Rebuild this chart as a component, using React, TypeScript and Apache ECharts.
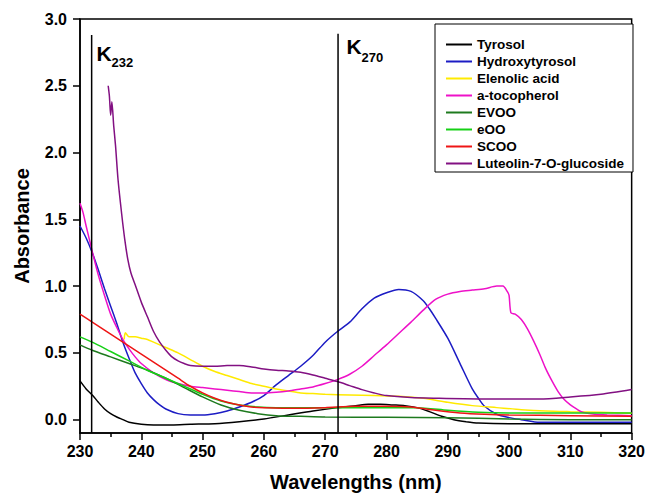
import { useEffect, useRef } from "react";
import * as echarts from "echarts";

// ---- Data ----
const wlTyrosol = [230, 231, 232, 233, 234, 235, 236, 237, 238, 240, 242, 245, 248, 252, 256, 260, 264, 268, 272, 275, 277, 279, 281, 283, 285, 287, 289, 291, 293, 295, 300, 310, 320];
const absTyrosol = [0.29, 0.23, 0.185, 0.13, 0.08, 0.045, 0.02, 0.0, -0.02, -0.035, -0.04, -0.04, -0.035, -0.03, -0.015, 0.005, 0.035, 0.065, 0.09, 0.105, 0.115, 0.115, 0.11, 0.105, 0.09, 0.06, 0.025, 0.0, -0.015, -0.025, -0.03, -0.03, -0.03];

const wlHydroxy = [230, 231, 232, 233, 234, 235, 236, 237, 238, 239, 240, 241, 242, 243, 244, 246, 248, 250, 252, 254, 256, 258, 260, 262, 264, 266, 268, 270, 272, 274, 276, 278, 280, 282, 284, 286, 287, 288, 290, 292, 294, 295, 296, 298, 300, 302, 305, 310, 320];
const absHydroxy = [1.45, 1.36, 1.25, 1.12, 0.98, 0.85, 0.72, 0.58, 0.46, 0.35, 0.27, 0.2, 0.15, 0.11, 0.08, 0.045, 0.035, 0.035, 0.045, 0.065, 0.095, 0.13, 0.18, 0.26, 0.33, 0.4, 0.48, 0.58, 0.66, 0.73, 0.83, 0.91, 0.95, 0.975, 0.96, 0.89, 0.83, 0.76, 0.61, 0.42, 0.23, 0.16, 0.1, 0.04, 0.015, 0.0, -0.02, -0.02, -0.02];

const wlElenolic = [237.2, 237.4, 238, 239, 240, 241, 242, 244, 246, 248, 250, 252, 254, 256, 258, 260, 262, 264, 266, 268, 270, 274, 278, 282, 286, 290, 294, 298, 302, 306, 310, 315, 320];
const absElenolic = [0.6, 0.65, 0.62, 0.62, 0.61, 0.6, 0.58, 0.54, 0.5, 0.45, 0.4, 0.36, 0.33, 0.3, 0.27, 0.25, 0.23, 0.215, 0.2, 0.195, 0.19, 0.185, 0.18, 0.175, 0.16, 0.13, 0.105, 0.09, 0.075, 0.065, 0.06, 0.055, 0.047];

const wlTocopherol = [230, 230.5, 231, 232, 233, 234, 235, 236, 237, 238, 239, 240, 242, 244, 246, 248, 250, 252, 254, 256, 258, 260, 262, 264, 266, 268, 270, 272, 274, 276, 278, 280, 282, 284, 286, 288, 290, 292, 294, 296, 298, 299, 299.7, 300, 300.3, 301, 302, 303, 304, 305, 306, 307, 308, 309, 310, 311, 312, 314, 316, 320];
const absTocopherol = [1.62, 1.55, 1.45, 1.26, 1.08, 0.93, 0.79, 0.69, 0.6, 0.53, 0.47, 0.42, 0.35, 0.3, 0.27, 0.25, 0.24, 0.23, 0.22, 0.21, 0.2, 0.2, 0.205, 0.215, 0.23, 0.245, 0.27, 0.3, 0.34, 0.4, 0.48, 0.56, 0.645, 0.73, 0.82, 0.9, 0.94, 0.96, 0.97, 0.98, 1.0, 1.0, 0.96, 0.93, 0.8, 0.79, 0.75, 0.68, 0.59, 0.49, 0.38, 0.29, 0.21, 0.15, 0.11, 0.08, 0.055, 0.04, 0.035, 0.03];

const wlEVOO = [230, 232, 235, 238, 241, 244, 247, 250, 253, 256, 259, 262, 266, 270, 280, 290, 300, 310, 320];
const absEVOO = [0.56, 0.52, 0.47, 0.42, 0.37, 0.31, 0.24, 0.17, 0.11, 0.07, 0.045, 0.03, 0.025, 0.02, 0.018, 0.015, 0.005, 0.0, 0.0];

const wlEOO = [230, 232, 235, 238, 241, 244, 247, 250, 253, 256, 259, 262, 266, 270, 275, 280, 285, 290, 295, 300, 310, 320];
const absEOO = [0.62, 0.58, 0.51, 0.44, 0.37, 0.31, 0.25, 0.19, 0.14, 0.11, 0.095, 0.09, 0.09, 0.09, 0.09, 0.09, 0.09, 0.07, 0.055, 0.05, 0.05, 0.05];

const wlSCOO = [230, 232, 234, 236, 238, 240, 242, 244, 246, 248, 250, 252, 254, 256, 258, 260, 265, 270, 275, 280, 284, 288, 292, 296, 300, 310, 320];
const absSCOO = [0.79, 0.73, 0.67, 0.61, 0.55, 0.49, 0.43, 0.37, 0.31, 0.25, 0.2, 0.16, 0.13, 0.11, 0.095, 0.09, 0.085, 0.09, 0.1, 0.1, 0.095, 0.07, 0.05, 0.04, 0.035, 0.03, 0.025];

const wlLuteolin = [234.6, 234.8, 235, 235.2, 235.5, 235.8, 236.2, 236.8, 237.3, 237.8, 238.3, 239, 240, 241, 242, 243, 244, 245, 246, 247, 248, 250, 252, 254, 256, 258, 260, 262, 264, 266, 268, 270, 272, 274, 276, 278, 280, 284, 288, 295, 300, 305, 310, 315, 320];
const absLuteolin = [2.5, 2.42, 2.28, 2.38, 2.2, 2.05, 1.8, 1.54, 1.35, 1.2, 1.1, 1.01, 0.88, 0.77, 0.66, 0.58, 0.52, 0.47, 0.44, 0.42, 0.405, 0.4, 0.4, 0.405, 0.405, 0.395, 0.38, 0.37, 0.365, 0.355, 0.335, 0.31, 0.285, 0.255, 0.225, 0.2, 0.18, 0.165, 0.16, 0.155, 0.155, 0.155, 0.17, 0.19, 0.225];

const seriesNames = ["Tyrosol", "Hydroxytyrosol", "Elenolic acid", "a-tocopherol", "EVOO", "eOO", "SCOO", "Luteolin-7-O-glucoside"];
const seriesColors = ["#000000", "#1c1cc4", "#ffea00", "#ee11c8", "#1e7a1e", "#16d016", "#ee1515", "#821082"];
const seriesWl = [wlTyrosol, wlHydroxy, wlElenolic, wlTocopherol, wlEVOO, wlEOO, wlSCOO, wlLuteolin];
const seriesAbs = [absTyrosol, absHydroxy, absElenolic, absTocopherol, absEVOO, absEOO, absSCOO, absLuteolin];

// Reference lines K232 / K270: wavelength and top absorbance
const kWavelengths = [231.9, 272.1];
const kTops = [2.88, 2.89];
const kLabels = ["232", "270"];

const yTickValues = [0, 0.5, 1.0, 1.5, 2.0, 2.5, 3.0];

export default function App() {
  const ref = useRef<HTMLDivElement>(null);

  useEffect(() => {
    if (!ref.current) return;
    const chart = echarts.init(ref.current, null, { renderer: "svg" });
    const font = "'Liberation Sans', Arial, Helvetica, sans-serif";

    const lineSeries: any[] = seriesNames.map((name, i) => ({
      type: "line",
      name,
      data: seriesWl[i].map((x, j) => [x, seriesAbs[i][j]]),
      showSymbol: false,
      symbol: "none",
      smooth: 0.25,
      lineStyle: { width: 1.5, color: seriesColors[i] },
      itemStyle: { color: seriesColors[i] },
      silent: true,
      z: 3,
    }));

    const kSeries: any[] = kWavelengths.map((w, i) => ({
      type: "line",
      name: "K" + kLabels[i],
      data: [
        [w, -0.1],
        [w, kTops[i]],
      ],
      showSymbol: false,
      symbol: "none",
      lineStyle: { width: 1.5, color: "#000" },
      silent: true,
      z: 4,
    }));

    chart.setOption({
      animation: false,
      backgroundColor: "#fff",
      textStyle: { fontFamily: font },
      grid: {
        left: 80,
        right: 16,
        top: 19,
        bottom: 64,
        show: true,
        borderColor: "#000",
        borderWidth: 1.5,
        containLabel: false,
      },
      legend: {
        data: seriesNames,
        orient: "vertical",
        left: 435,
        top: 24,
        icon: "rect",
        itemWidth: 26,
        itemHeight: 2,
        itemGap: 2,
        padding: [13, 9, 1, 11],
        borderColor: "#000",
        borderWidth: 1,
        backgroundColor: "#fff",
        selectedMode: false,
        textStyle: {
          fontFamily: font,
          fontWeight: "bold",
          fontSize: 13.5,
          lineHeight: 15,
          color: "#000",
        },
      },
      xAxis: {
        type: "value",
        min: 230,
        max: 320,
        interval: 10,
        name: "Wavelengths (nm)",
        nameLocation: "middle",
        nameGap: 39,
        nameTextStyle: { fontFamily: font, fontWeight: "bold", fontSize: 20, color: "#000" },
        axisLine: { onZero: false, lineStyle: { color: "#000", width: 1.5 } },
        axisTick: { show: true, inside: false, length: 7, lineStyle: { color: "#000", width: 1.5 } },
        minorTick: { show: true, splitNumber: 2, length: 4, lineStyle: { color: "#000", width: 1.5 } },
        axisLabel: { margin: 10, fontFamily: font, fontWeight: "bold", fontSize: 16, color: "#000" },
        splitLine: { show: false },
      },
      yAxis: {
        type: "value",
        min: -0.1,
        max: 3.0,
        name: "Absorbance",
        nameLocation: "middle",
        nameGap: 48,
        nameRotate: 90,
        nameTextStyle: { fontFamily: font, fontWeight: "bold", fontSize: 20, color: "#000" },
        axisLine: { onZero: false, lineStyle: { color: "#000", width: 1.5 } },
        axisTick: {
          show: true,
          inside: false,
          length: 7,
          customValues: yTickValues,
          lineStyle: { color: "#000", width: 1.5 },
        },
        axisLabel: {
          margin: 13,
          customValues: yTickValues,
          formatter: (v: number) => v.toFixed(1),
          fontFamily: font,
          fontWeight: "bold",
          fontSize: 16,
          color: "#000",
        },
        splitLine: { show: false },
      },
      graphic: [
        { type: "text", left: 96.5, top: 43, style: { text: "K", font: `bold 21px ${font}`, fill: "#000" }, z: 10 },
        { type: "text", left: 111.5, top: 56, style: { text: kLabels[0], font: `bold 13px ${font}`, fill: "#000" }, z: 10 },
        { type: "text", left: 346.5, top: 36, style: { text: "K", font: `bold 21px ${font}`, fill: "#000" }, z: 10 },
        { type: "text", left: 361.5, top: 50.5, style: { text: kLabels[1], font: `bold 13px ${font}`, fill: "#000" }, z: 10 },
      ],
      series: [...lineSeries, ...kSeries],
    });

    return () => chart.dispose();
  }, []);

  return (
    <div
      ref={ref}
      style={{ position: "fixed", left: 0, top: 0, width: 648, height: 497, background: "#fff" }}
    />
  );
}
